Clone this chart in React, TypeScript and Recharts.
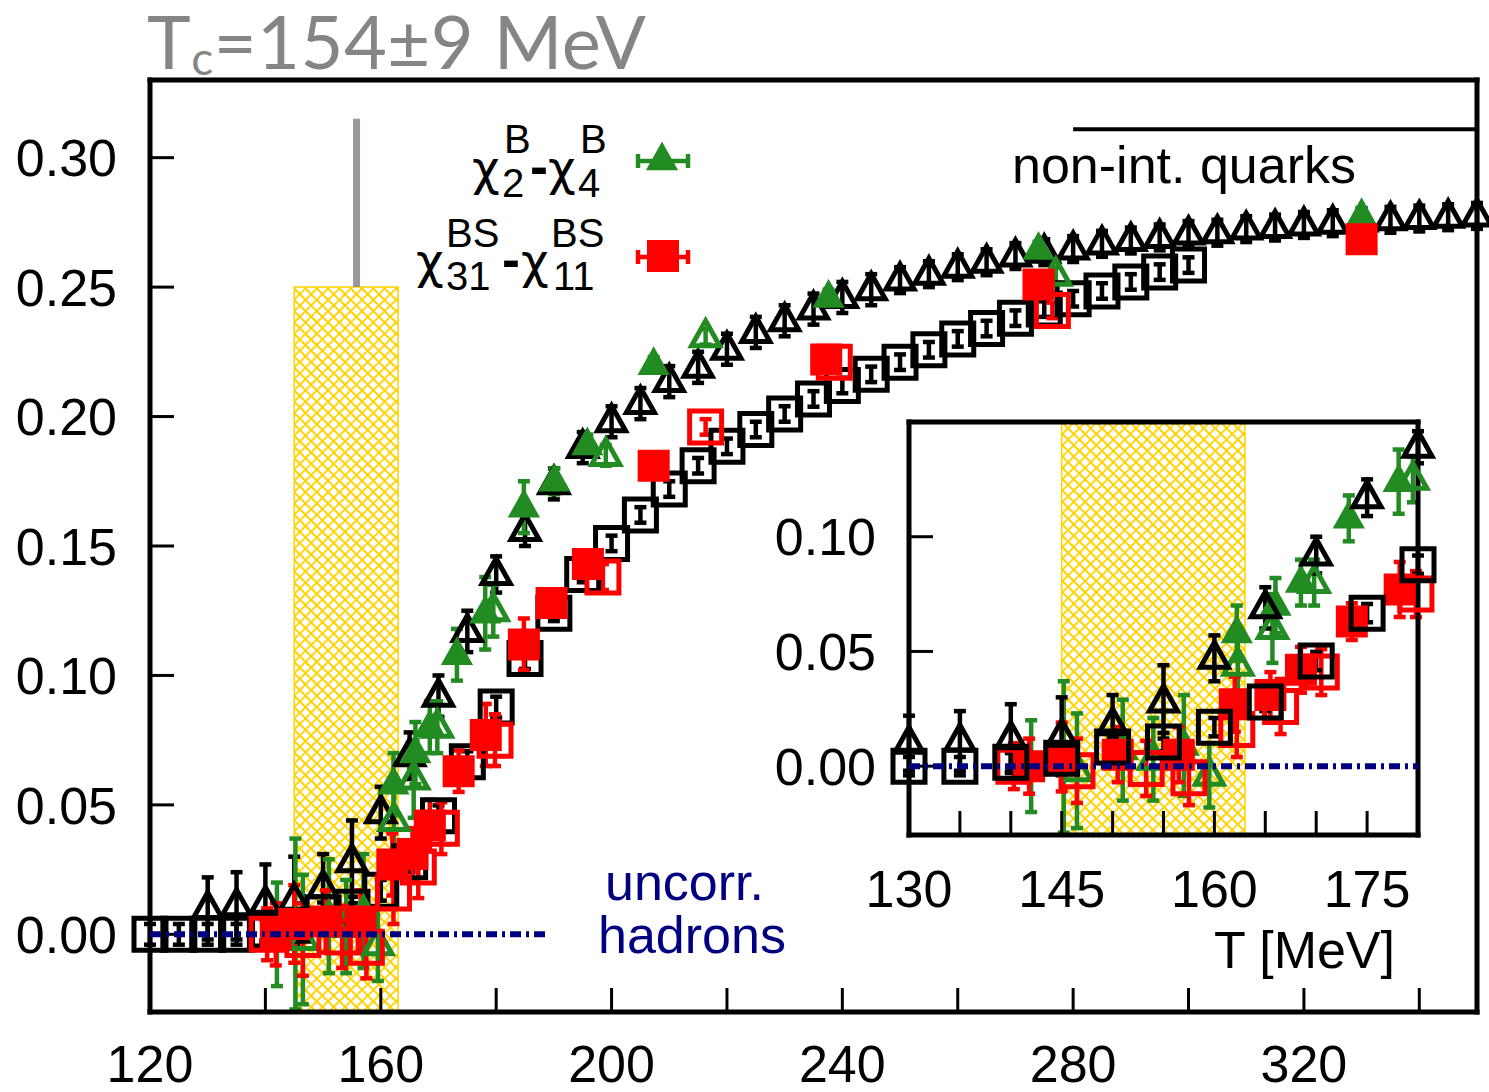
import React from 'react';
import { ScatterChart, Scatter, XAxis, YAxis, ErrorBar, ReferenceArea, ReferenceLine } from 'recharts';

const FONT = '"Liberation Sans", Arial, Helvetica, sans-serif';
const GREEN = '#228b22';
const RED = '#ff0000';
const NAVY = '#000080';
const GOLD = '#ffd200';

// continuum estimate, chi2-chi4 (black open triangles)
const contTriT = [130, 135, 140, 145, 150, 155, 160, 165, 170, 175, 180, 185, 190, 195, 200, 205, 210, 215, 220, 225, 230, 235, 240, 245, 250, 255, 260, 265, 270, 275, 280, 285, 290, 295, 300, 305, 310, 315, 320, 325, 330, 335, 340, 345, 350];
const contTriV = [0.010, 0.011, 0.012, 0.013, 0.018, 0.028, 0.047, 0.069, 0.092, 0.117, 0.139, 0.156, 0.174, 0.188, 0.198, 0.205, 0.2135, 0.219, 0.226, 0.2325, 0.237, 0.2415, 0.246, 0.249, 0.2527, 0.255, 0.2577, 0.2596, 0.262, 0.2635, 0.2647, 0.2667, 0.268, 0.2692, 0.2705, 0.271, 0.2724, 0.273, 0.274, 0.2747, 0.2755, 0.276, 0.2765, 0.277, 0.2775];
const contTriE = [0.012, 0.013, 0.015, 0.017, 0.013, 0.016, 0.010, 0.009, 0.008, 0.008, 0.007, 0.006, 0.006, 0.006, 0.006, 0.006, 0.006, 0.006, 0.006, 0.006, 0.006, 0.006, 0.006, 0.006, 0.005, 0.005, 0.005, 0.005, 0.005, 0.005, 0.005, 0.005, 0.005, 0.005, 0.005, 0.005, 0.005, 0.005, 0.005, 0.005, 0.005, 0.005, 0.005, 0.005, 0.005];

// continuum estimate, chi31-chi11 (black open squares)
const contSqT = [120, 125, 130, 135, 140, 145, 150, 155, 160, 165, 170, 175, 180, 185, 190, 195, 200, 205, 210, 215, 220, 225, 230, 235, 240, 245, 250, 255, 260, 265, 270, 275, 280, 285, 290, 295, 300];
const contSqV = [0.000, 0.000, 0.000, 0.000, 0.0017, 0.0035, 0.0083, 0.0105, 0.017, 0.028, 0.0458, 0.0667, 0.0878, 0.1065, 0.124, 0.139, 0.151, 0.162, 0.172, 0.181, 0.1885, 0.195, 0.201, 0.2068, 0.212, 0.2163, 0.221, 0.2258, 0.230, 0.234, 0.238, 0.2415, 0.2455, 0.2485, 0.252, 0.2558, 0.2585];
const contSqE = [0.004, 0.004, 0.004, 0.004, 0.004, 0.004, 0.004, 0.004, 0.004, 0.004, 0.004, 0.004, 0.004, 0.004, 0.003, 0.003, 0.003, 0.003, 0.003, 0.003, 0.003, 0.003, 0.003, 0.003, 0.003, 0.003, 0.003, 0.003, 0.003, 0.003, 0.003, 0.003, 0.003, 0.003, 0.003, 0.003, 0.003];

// lattice chi2-chi4, filled green
const b24FilledT = [142, 145.2, 151, 157, 162.2, 166, 168.5, 173.2, 178.1, 184.8, 190.1, 195.8, 207.3, 237.6, 274, 330];
const b24FilledV = [0.000, 0.004, 0.007, 0.009, 0.058, 0.070, 0.080, 0.108, 0.124, 0.165, 0.175, 0.189, 0.220, 0.246, 0.2645, 0.2775];
const b24FilledE = [0.020, 0.033, 0.022, 0.022, 0.012, 0.012, 0.010, 0.010, 0.014, 0.010, 0.005, 0.004, 0.003, 0.003, 0.003, 0.003];

// lattice chi2-chi4, open green
const b24OpenT = [146.5, 154, 159.5, 162.3, 165.7, 169.8, 179.5, 199, 216.3, 277];
const b24OpenV = [-0.002, 0.003, -0.004, 0.044, 0.060, 0.080, 0.125, 0.185, 0.2308, 0.2546];
const b24OpenE = [0.025, 0.018, 0.014, 0.012, 0.015, 0.010, 0.010, 0.004, 0.003, 0.003];

// lattice chi31-chi11, filled red
const bs31FilledT = [141.8, 145, 150.5, 156.5, 162, 165.5, 168.5, 173.5, 178.2, 184.8, 189.6, 195.9, 207.3, 237.2, 274, 330];
const bs31FilledV = [0.000, 0.004, 0.005, 0.005, 0.027, 0.031, 0.042, 0.063, 0.077, 0.112, 0.128, 0.143, 0.181, 0.222, 0.251, 0.2685];
const bs31FilledE = [0.012, 0.015, 0.012, 0.012, 0.012, 0.010, 0.010, 0.008, 0.012, 0.010, 0.005, 0.004, 0.003, 0.003, 0.003, 0.003];

// lattice chi31-chi11, open red
const bs31OpenT = [140.3, 146.5, 153.3, 157.5, 162.2, 166.5, 170.5, 179.8, 198.5, 216.3, 238.6, 276.4];
const bs31OpenV = [0.000, -0.002, -0.001, -0.005, 0.016, 0.026, 0.041, 0.075, 0.138, 0.196, 0.221, 0.241];
const bs31OpenE = [0.010, 0.014, 0.012, 0.012, 0.012, 0.012, 0.010, 0.010, 0.005, 0.003, 0.003, 0.003];

// uncorrelated hadron gas limit (zero), drawn up to ~189 MeV in the main panel
const hadronT = [120, 189];
const hadronV = [0, 0];
const hadronInsetT = [130, 180];

const mainXTicks = [120, 140, 160, 180, 200, 220, 240, 260, 280, 300, 320, 340];
const mainYTicks = [0, 0.05, 0.1, 0.15, 0.2, 0.25, 0.3];
const insetXTicks = [130, 135, 140, 145, 150, 155, 160, 165, 170, 175, 180];
const insetYTicks = [0, 0.05, 0.1];

const tcBand = [145, 163];
const tcMarkT = 155.8;
const quarkLimit = 0.311;

type Pt = { T: number; v: number; e: number };
const toPts = (T: number[], v: number[], e: number[]): Pt[] => T.map((t, i) => ({ T: t, v: v[i], e: e[i] }));
const inInset = (pts: Pt[]) => pts.filter(p => p.T >= 130 && p.T <= 180);

const contTri = toPts(contTriT, contTriV, contTriE);
const contSq = toPts(contSqT, contSqV, contSqE);
const b24Filled = toPts(b24FilledT, b24FilledV, b24FilledE);
const b24Open = toPts(b24OpenT, b24OpenV, b24OpenE);
const bs31Filled = toPts(bs31FilledT, bs31FilledV, bs31FilledE);
const bs31Open = toPts(bs31OpenT, bs31OpenV, bs31OpenE);
const hadron = hadronT.map((t, i) => ({ T: t, v: hadronV[i] }));
const hadronInset = hadronInsetT.map((t, i) => ({ T: t, v: hadronV[i] }));

const SW = 5;
const triPath = (cx: number, cy: number) => `M${cx},${cy - 16}L${cx + 14},${cy + 9}L${cx - 14},${cy + 9}Z`;
const sqPath = (cx: number, cy: number, h: number) => `M${cx - h},${cy - h}H${cx + h}V${cy + h}H${cx - h}Z`;

const openTri = (color: string) => (p: any) =>
  p.cx == null ? <g /> : <path d={triPath(p.cx, p.cy)} fill="none" stroke={color} strokeWidth={SW} />;
const fillTri = (color: string) => (p: any) =>
  p.cx == null ? <g /> : <path d={triPath(p.cx, p.cy)} fill={color} stroke={color} strokeWidth={2.5} />;
const openSq = (color: string) => (p: any) =>
  p.cx == null ? <g /> : <path d={sqPath(p.cx, p.cy, 16)} fill="none" stroke={color} strokeWidth={SW} />;
const fillSq = (color: string) => (p: any) =>
  p.cx == null ? <g /> : <path d={sqPath(p.cx, p.cy, 16)} fill={color} />;

const AXIS = { stroke: '#000', strokeWidth: 5, strokeLinecap: 'square' as const };
const TICK = { stroke: '#000', strokeWidth: 3 };

const XTick = (step: number, start: number) => (p: any) => (
  <text x={p.x} y={p.y} dy="0.72em" textAnchor="middle" fontFamily={FONT} fontSize={52} fill="#000">
    {(p.payload.value - start) % step === 0 ? String(p.payload.value) : ''}
  </text>
);
const YTick = (p: any) => (
  <text x={p.x} y={p.y} dy="0.36em" textAnchor="end" fontFamily={FONT} fontSize={52} fill="#000">
    {Number(p.payload.value).toFixed(2)}
  </text>
);

const hatch = (id: string) => (
  <defs>
    <pattern id={id} width="8" height="8" patternUnits="userSpaceOnUse" patternTransform="rotate(45)">
      <rect width="8" height="8" fill="#fff" />
      <path d="M0,4H8M4,0V8" stroke={GOLD} strokeWidth={1.8} />
    </pattern>
  </defs>
);

function series(data: Pt[], shape: any, color: string, key: string) {
  return (
    <Scatter key={key} data={data} xAxisId="b" yAxisId="l" shape={shape} isAnimationActive={false}>
      <ErrorBar dataKey="e" direction="y" width={6} stroke={color} strokeWidth={4.5} />
    </Scatter>
  );
}

function hadronLine(data: { T: number; v: number }[]) {
  return (
    <Scatter data={data} xAxisId="b" yAxisId="l" shape={() => <g />} isAnimationActive={false}
      line={{ stroke: NAVY, strokeWidth: 6, strokeDasharray: '11 5 3 5' }} stroke={NAVY} strokeWidth={6}
      strokeDasharray="11 5 3 5" />
  );
}

function MainChart() {
  return (
    <ScatterChart width={1489} height={1092} margin={{ top: 50, right: 2, bottom: 0, left: 10 }}>
      {hatch('hatchMain')}
      <XAxis xAxisId="b" type="number" dataKey="T" domain={[120, 350]} ticks={mainXTicks} interval={0}
        height={80} tickSize={-24} tickMargin={57} tick={XTick(40, 120)} axisLine={AXIS} tickLine={TICK} />
      <XAxis xAxisId="t" orientation="top" type="number" dataKey="T" domain={[120, 350]} ticks={mainXTicks} interval={0}
        height={30} tickSize={-24} tick={false} axisLine={AXIS} tickLine={TICK} />
      <YAxis yAxisId="l" type="number" dataKey="v" domain={[-0.03, 0.33]} ticks={mainYTicks} interval={0}
        width={140} tickSize={-24} tickMargin={57} tick={YTick} axisLine={AXIS} tickLine={TICK} />
      <YAxis yAxisId="r" orientation="right" type="number" dataKey="v" domain={[-0.03, 0.33]} ticks={mainYTicks} interval={0}
        width={10} tickSize={-24} tick={false} axisLine={AXIS} tickLine={TICK} />
      <ReferenceArea xAxisId="b" yAxisId="l" x1={tcBand[0]} x2={tcBand[1]} y1={-0.03} y2={0.25}
        fill="url(#hatchMain)" fillOpacity={1} stroke={GOLD} strokeWidth={1.5} ifOverflow="visible" />
      <ReferenceLine xAxisId="b" yAxisId="l" segment={[{ x: tcMarkT, y: 0.25 }, { x: tcMarkT, y: 0.315 }]}
        stroke="#999" strokeWidth={7} ifOverflow="visible" />
      <ReferenceLine xAxisId="b" yAxisId="l" segment={[{ x: 280, y: quarkLimit }, { x: 350, y: quarkLimit }]}
        stroke="#000" strokeWidth={4} ifOverflow="visible" />
      {series(contTri, openTri('#000'), '#000', 'ct')}
      {series(contSq, openSq('#000'), '#000', 'cs')}
      {series(b24Open, openTri(GREEN), GREEN, 'go')}
      {series(b24Filled, fillTri(GREEN), GREEN, 'gf')}
      {series(bs31Open, openSq(RED), RED, 'ro')}
      {series(bs31Filled, fillSq(RED), RED, 'rf')}
      {hadronLine(hadron)}
    </ScatterChart>
  );
}

function InsetChart() {
  return (
    <ScatterChart width={700} height={600} margin={{ top: 12, right: 12, bottom: 85, left: 19 }}>
      {hatch('hatchInset')}
      <XAxis xAxisId="b" type="number" dataKey="T" domain={[130, 180]} ticks={insetXTicks} interval={0}
        height={80} tickSize={-24} tickMargin={59} tick={XTick(15, 130)} axisLine={AXIS} tickLine={TICK} />
      <XAxis xAxisId="t" orientation="top" type="number" dataKey="T" domain={[130, 180]} ticks={insetXTicks} interval={0}
        height={10} tickSize={-24} tick={false} axisLine={AXIS} tickLine={TICK} />
      <YAxis yAxisId="l" type="number" dataKey="v" domain={[-0.03, 0.15]} ticks={insetYTicks} interval={0}
        width={150} tickSize={-24} tickMargin={57} tick={YTick} axisLine={AXIS} tickLine={TICK} />
      <YAxis yAxisId="r" orientation="right" type="number" dataKey="v" domain={[-0.03, 0.15]} ticks={insetYTicks} interval={0}
        width={10} tickSize={-24} tick={false} axisLine={AXIS} tickLine={TICK} />
      <ReferenceArea xAxisId="b" yAxisId="l" x1={130} x2={180} y1={-0.03} y2={0.15} fill="#fff" fillOpacity={1} ifOverflow="visible" />
      <ReferenceArea xAxisId="b" yAxisId="l" x1={tcBand[0]} x2={tcBand[1]} y1={-0.03} y2={0.15}
        fill="url(#hatchInset)" fillOpacity={1} stroke={GOLD} strokeWidth={1.5} ifOverflow="visible" />
      {series(inInset(b24Open), openTri(GREEN), GREEN, 'go')}
      {series(inInset(b24Filled), fillTri(GREEN), GREEN, 'gf')}
      {series(inInset(bs31Open), openSq(RED), RED, 'ro')}
      {series(inInset(bs31Filled), fillSq(RED), RED, 'rf')}
      {series(inInset(contTri), openTri('#000'), '#000', 'ct')}
      {series(inInset(contSq), openSq('#000'), '#000', 'cs')}
      {hadronLine(hadronInset)}
    </ScatterChart>
  );
}

function Overlay() {
  const t = { fontFamily: FONT, fill: '#000' };
  const chi = { fontFamily: '"DejaVu Sans", "Noto Sans", sans-serif', fill: '#000', fontSize: 48 };
  return (
    <svg width={1489} height={1092} style={{ position: 'absolute', left: 0, top: 0, pointerEvents: 'none' }}>
      <text x={147} y={69} fontFamily="Lato, 'Open Sans', sans-serif" fontSize={74} fill="#858585" letterSpacing={0.5}>
        T<tspan fontSize={46} dy={6}>c</tspan><tspan dy={-6}>=154±9 MeV</tspan>
      </text>
      {/* legend */}
      <g {...t}>
        <text x={472} y={185} {...chi}>χ</text>
        <text x={502} y={197} fontSize={40}>2</text>
        <text x={504} y={153} fontSize={40}>B</text>
        <text x={530} y={185} fontSize={54} fontWeight="bold">-</text>
        <text x={548} y={185} {...chi}>χ</text>
        <text x={578} y={197} fontSize={40}>4</text>
        <text x={580} y={153} fontSize={40}>B</text>

        <text x={416} y={278} {...chi}>χ</text>
        <text x={446} y={290} fontSize={40}>31</text>
        <text x={446} y={247} fontSize={40}>BS</text>
        <text x={502} y={278} fontSize={54} fontWeight="bold">-</text>
        <text x={521} y={278} {...chi}>χ</text>
        <text x={553} y={290} fontSize={40}>11</text>
        <text x={551} y={247} fontSize={40}>BS</text>
      </g>
      <path d="M638,161H688M638,154V168M688,154V168" stroke={GREEN} strokeWidth={4.5} fill="none" />
      <path d={triPath(662, 160)} fill={GREEN} stroke={GREEN} strokeWidth={2.5} />
      <path d="M638,257H688M638,250V264M688,250V264" stroke={RED} strokeWidth={4.5} fill="none" />
      <path d={sqPath(663, 256, 16)} fill={RED} />

      <text x={1012} y={183} fontSize={52} {...t}>non-int. quarks</text>
      <text x={605} y={900} fontSize={52} fontFamily={FONT} fill={NAVY}>uncorr.</text>
      <text x={598} y={953} fontSize={52} fontFamily={FONT} fill={NAVY}>hadrons</text>
      <text x={1395} y={968} fontSize={52} textAnchor="end" {...t}>T [MeV]</text>
    </svg>
  );
}

export default function App() {
  return (
    <div style={{ position: 'absolute', left: 0, top: 0, width: 1489, height: 1092, background: '#fff' }}>
      <div style={{ position: 'absolute', left: 0, top: 0 }}>
        <MainChart />
      </div>
      <div style={{ position: 'absolute', left: 740, top: 400 }}>
        <InsetChart />
      </div>
      <Overlay />
    </div>
  );
}
